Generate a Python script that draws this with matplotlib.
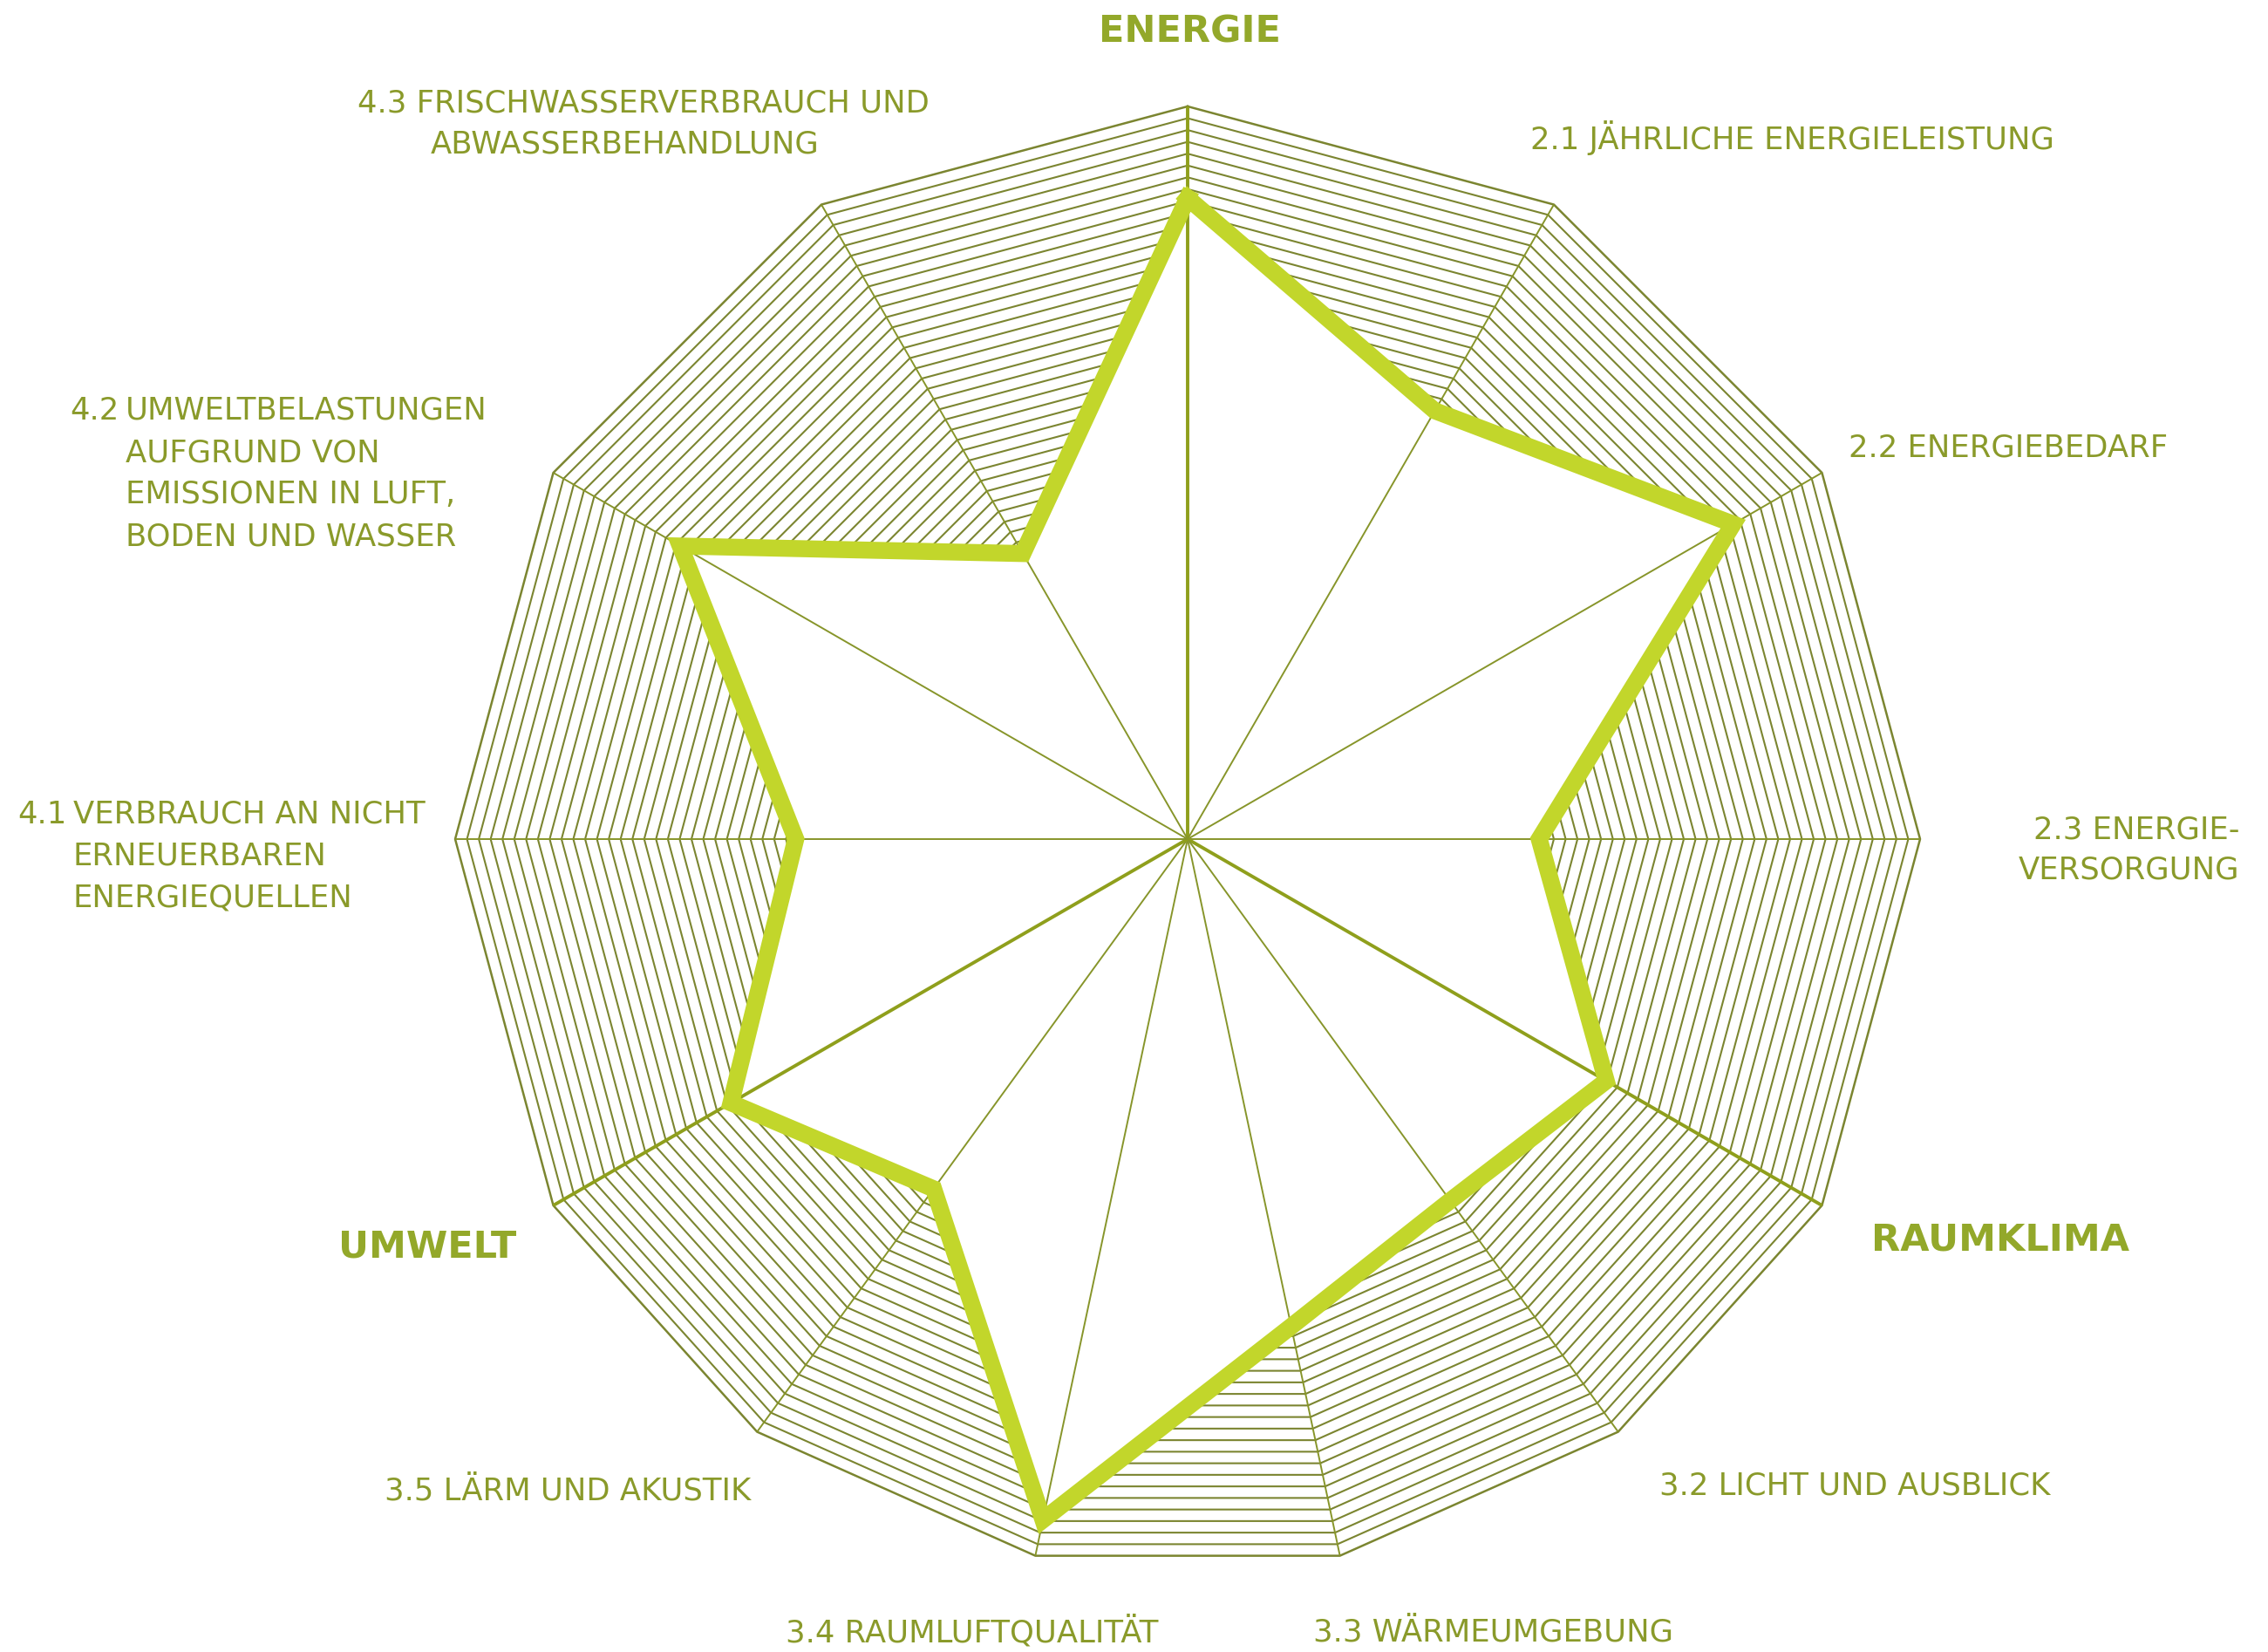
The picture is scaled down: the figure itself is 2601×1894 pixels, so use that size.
import numpy as np
import matplotlib
matplotlib.use("Agg")
import matplotlib.pyplot as plt

# --- Daten ---------------------------------------------------------------
bereiche = ["ENERGIE", "RAUMKLIMA", "UMWELT"]
kriterien_pro_bereich = [3, 4, 3]
achsen = ["ENERGIE",
          "2.1 JÄHRLICHE ENERGIELEISTUNG", "2.2 ENERGIEBEDARF", "2.3 ENERGIEVERSORGUNG",
          "RAUMKLIMA",
          "3.2 LICHT UND AUSBLICK", "3.3 WÄRMEUMGEBUNG", "3.4 RAUMLUFTQUALITÄT", "3.5 LÄRM UND AKUSTIK",
          "UMWELT",
          "4.1 VERBRAUCH AN NICHT ERNEUERBAREN ENERGIEQUELLEN",
          "4.2 UMWELTBELASTUNGEN AUFGRUND VON EMISSIONEN IN LUFT, BODEN UND WASSER",
          "4.3 FRISCHWASSERVERBRAUCH UND ABWASSERBEHANDLUNG"]
werte = [0.875, 0.675, 0.86, 0.48, 0.66, 0.61, 0.68, 0.95, 0.59, 0.72, 0.535, 0.80, 0.45]

# --- Stil ------------------------------------------------------------------
GRUEN = "#c2d62b"
OLIV = "#7b8530"
SPEICHE = "#87952a"
TEXT = "#8a9a2a"
TITEL = "#93a82a"
N_LINIEN = 62

# Bildpunkte -> Datenkoordinaten (Mittelpunkt und Radius im Bild)
CX, CY, R = 1362, 962, 840
W, H = 2601, 1894


def px(x, y):
    return (x - CX) / R, (CY - y) / R


# Winkel: jeder Bereich 120 Grad, gleichmaessig unterteilt
winkel = []
for i, n in enumerate(kriterien_pro_bereich):
    for j in range(n + 1):
        winkel.append(np.deg2rad(120 * i + 120 * j / (n + 1)))
winkel = np.array(winkel)
sx, sy = np.sin(winkel), np.cos(winkel)

fig = plt.figure(figsize=(W / 100, H / 100), dpi=100)
ax = fig.add_axes([0, 0, 1, 1])
ax.set_xlim(-CX / R, (W - CX) / R)
ax.set_ylim(-(H - CY) / R, CY / R)
ax.axis("off")

# Schraffur: konzentrische Polygone
for k in range(1, N_LINIEN + 1):
    f = k / N_LINIEN
    ax.plot(np.append(sx, sx[0]) * f, np.append(sy, sy[0]) * f,
            color=OLIV, lw=1.5 if k < N_LINIEN else 1.8, zorder=1)

# Flaeche innerhalb des Sterns weiss
v = np.array(werte)
ax.fill(sx * v, sy * v, color="white", zorder=2, lw=0)

# Speichen
for i, (a, b) in enumerate(zip(sx, sy)):
    dick = achsen[i] in bereiche
    ax.plot([0, a], [0, b], color="#8f9f1c" if dick else SPEICHE,
            lw=2.8 if dick else 1.4, zorder=3, solid_capstyle="butt")

# Sternlinie
ax.plot(np.append(sx * v, sx[0] * v[0]), np.append(sy * v, sy[0] * v[0]),
        color=GRUEN, lw=14, zorder=4, solid_joinstyle="miter")

# --- Beschriftungen -------------------------------------------------------
fs = 25.5
kw = dict(color=TEXT, fontsize=fs, va="center", family="DejaVu Sans")
tkw = dict(color=TITEL, fontsize=31, va="center", ha="center",
           fontweight="bold", family="DejaVu Sans")

ax.text(*px(1364, 37), "ENERGIE", **tkw)
ax.text(*px(2294, 1422), "RAUMKLIMA", **tkw)
ax.text(*px(490, 1430), "UMWELT", **tkw)

ax.text(*px(738, 119), "4.3 FRISCHWASSERVERBRAUCH UND", ha="center", **kw)
ax.text(*px(717, 166), "ABWASSERBEHANDLUNG", ha="center", **kw)
ax.text(*px(1755, 158), "2.1 JÄHRLICHE ENERGIELEISTUNG", ha="left", **kw)
ax.text(*px(2120, 514), "2.2 ENERGIEBEDARF", ha="left", **kw)
ax.text(*px(2568, 951), "2.3 ENERGIE-", ha="right", **kw)
ax.text(*px(2568, 997), "VERSORGUNG", ha="right", **kw)
ax.text(*px(1903, 1704), "3.2 LICHT UND AUSBLICK", ha="left", **kw)
ax.text(*px(1506, 1871), "3.3 WÄRMEUMGEBUNG", ha="left", **kw)
ax.text(*px(901, 1871), "3.4 RAUMLUFTQUALITÄT", ha="left", **kw)
ax.text(*px(441, 1709), "3.5 LÄRM UND AKUSTIK", ha="left", **kw)

ax.text(*px(20, 934), "4.1", ha="left", **kw)
for i, zeile in enumerate(["VERBRAUCH AN NICHT", "ERNEUERBAREN", "ENERGIEQUELLEN"]):
    ax.text(*px(84, 934 + 48 * i), zeile, ha="left", **kw)

ax.text(*px(80, 471), "4.2", ha="left", **kw)
for i, zeile in enumerate(["UMWELTBELASTUNGEN", "AUFGRUND VON",
                           "EMISSIONEN IN LUFT,", "BODEN UND WASSER"]):
    ax.text(*px(144, 471 + 48 * i), zeile, ha="left", **kw)

fig.savefig("out.png", dpi=100, facecolor="white")
